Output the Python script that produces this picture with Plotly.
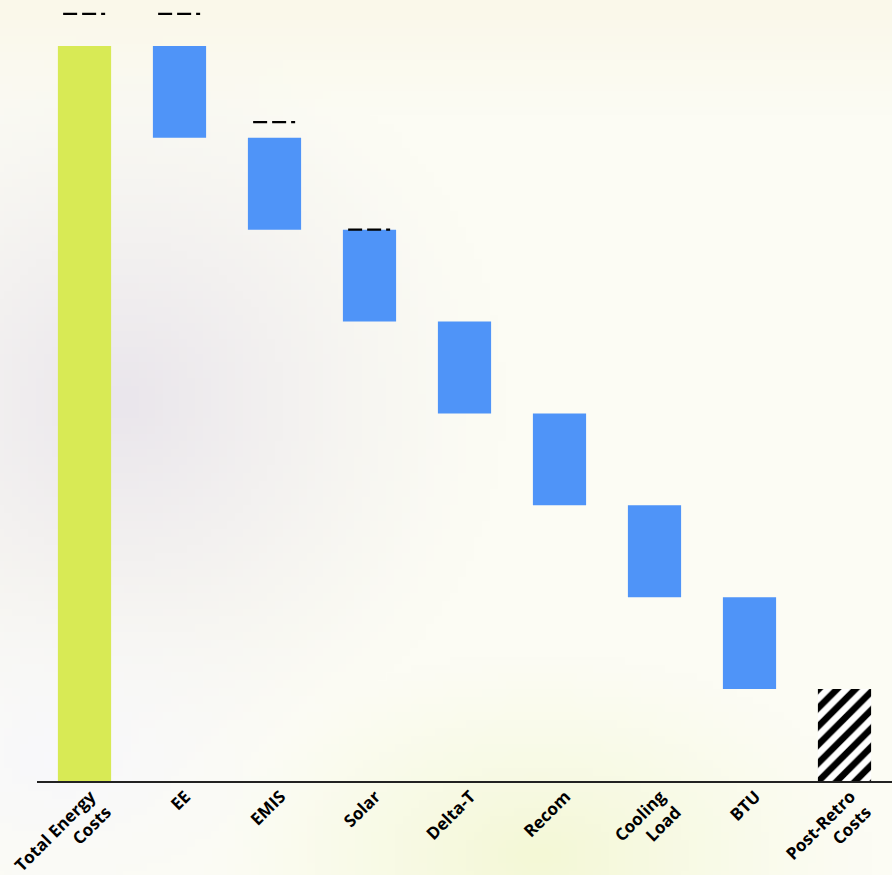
import base64, struct, zlib
import numpy as np
import plotly.graph_objects as go

# ---- data ----
categories = ["Total Energy<br>Costs", "EE", "EMIS", "Solar", "Delta-T", "Recom",
              "Cooling<br>Load", "BTU", "Post-Retro<br>Costs"]
total_cost = 8.0
savings = [1.0, 1.0, 1.0, 1.0, 1.0, 1.0, 1.0]
marker_levels = [8.35, 8.35, 7.17, 6.0]   # dash-dot marks above first four bars

# ---- derived waterfall geometry ----
bases, heights = [0.0], [total_cost]
level = total_cost
for s in savings:
    level -= s
    bases.append(level)
    heights.append(s)
post_retro = level

# ---- background image (soft gradient) ----
W, H = 892, 875
gw, gh = 112, 110
xs = np.linspace(0, W, gw)[None, :]
ys = np.linspace(0, H, gh)[:, None]
base = np.array([252, 252, 244], float)
img = np.ones((gh, gw, 3)) * base
top = np.clip(1 - ys / 110, 0, 1)[..., None] * np.ones((1, gw, 1))
img = img * (1 - top) + np.array([250, 248, 234]) * top
d1 = np.sqrt(((xs - 120) / 380) ** 2 + ((ys - 400) / 380) ** 2)
w1 = np.clip(1 - d1, 0, 1) ** 1.3
img = img * (1 - w1[..., None]) + np.array([234, 230, 236]) * w1[..., None]
d2 = np.sqrt(((xs - 540) / 330) ** 2 + ((ys - 860) / 200) ** 2)
w2 = np.clip(1 - d2, 0, 1) ** 1.2
img = img * (1 - w2[..., None]) + np.array([244, 248, 214]) * w2[..., None]
d3 = np.sqrt(((xs - 60) / 300) ** 2 + ((ys - 760) / 200) ** 2)
w3 = np.clip(1 - d3, 0, 1) ** 1.5
img = img * (1 - w3[..., None]) + np.array([248, 248, 252]) * w3[..., None]
img = np.clip(img, 0, 255).astype(np.uint8)


def make_png(arr):
    h, w, _ = arr.shape
    raw = b"".join(b"\x00" + arr[r].tobytes() for r in range(h))

    def chunk(t, d):
        c = struct.pack(">I", len(d)) + t + d
        return c + struct.pack(">I", zlib.crc32(t + d) & 0xFFFFFFFF)
    return (b"\x89PNG\r\n\x1a\n" + chunk(b"IHDR", struct.pack(">IIBBBBB", w, h, 8, 2, 0, 0, 0))
            + chunk(b"IDAT", zlib.compress(raw, 9)) + chunk(b"IEND", b""))


bg_uri = "data:image/png;base64," + base64.b64encode(make_png(img)).decode()

# ---- figure ----
fig = go.Figure()
colors = ["#d8ea55"] + ["#4f94f8"] * len(savings)
fig.add_trace(go.Bar(x=categories[:-1], y=heights, base=bases, marker=dict(color=colors, line=dict(width=0)),
                     width=0.56, hoverinfo="skip", showlegend=False))
fig.add_trace(go.Bar(x=[categories[-1]], y=[post_retro], base=[0],
                     marker=dict(color="white", line=dict(width=0),
                                 pattern=dict(shape="/", fgcolor="black", bgcolor="white",
                                              fgopacity=1, size=13, solidity=0.5)),
                     width=0.56, hoverinfo="skip", showlegend=False))

for i, lv in enumerate(marker_levels):
    fig.add_trace(go.Scatter(x=[i - 0.225, i + 0.225], y=[lv, lv], mode="lines",
                             xaxis="x2", line=dict(color="black", width=2.2,
                                                   dash="14px,5px,14px,5px,4px,60px"),
                             hoverinfo="skip", showlegend=False))

fig.update_layout(
    width=W, height=H,
    margin=dict(l=37, r=0, t=0, b=94, autoexpand=False),
    barmode="overlay",
    paper_bgcolor="rgba(0,0,0,0)", plot_bgcolor="rgba(0,0,0,0)",
    images=[dict(source=bg_uri, xref="paper", yref="paper", x=-37 / (W - 37), y=1,
                 sizex=W / (W - 37), sizey=H / (H - 94), sizing="stretch",
                 xanchor="left", yanchor="top", layer="below")],
    xaxis=dict(type="category", categoryorder="array", categoryarray=categories,
               range=[-0.5, 8.5], showgrid=False, showline=True, linecolor="#222", linewidth=2,
               ticks="", tickangle=-45, automargin=False, ticklabelshift=6, ticklabelstandoff=-3,
               tickfont=dict(family="Open Sans", size=17, color="black", weight="bold")),
    xaxis2=dict(overlaying="x", range=[-0.5, 8.5], visible=False),
    yaxis=dict(range=[0, 8.5], visible=False, showgrid=False, zeroline=False, automargin=False),
    font=dict(family="Open Sans"),
)

fig.write_html("out.html")
